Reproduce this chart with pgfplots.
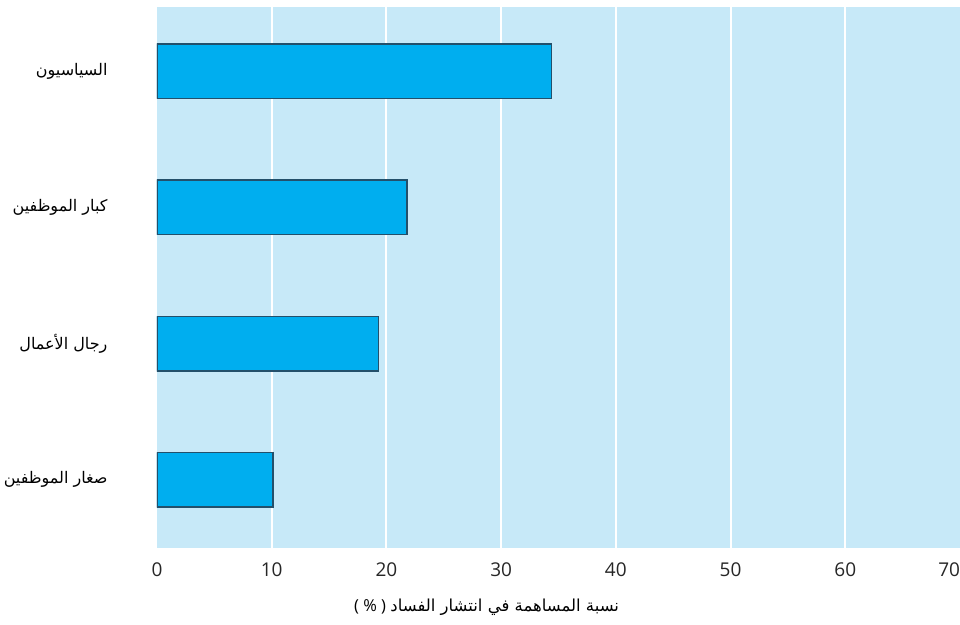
\documentclass[border=0pt]{standalone}
\usepackage{fontspec}
\usepackage{pgfplots}
\pgfplotsset{compat=1.18}
\setmainfont{Open Sans}
\newfontfamily\arabicfont[Script=Arabic]{DejaVu Sans}
\TeXXeTstate=1
\definecolor{bg}{HTML}{C7E9F8}
\definecolor{barfill}{HTML}{00AEEF}
\definecolor{edge}{HTML}{23506B}
\begin{document}
\begin{tikzpicture}
\path[use as bounding box] (-157pt,-76pt) rectangle (803pt,548pt);
\begin{axis}[at={(0,0)}, anchor=south west, scale only axis,
  width=803pt, height=541pt,
  xbar, xmin=0, xmax=70, ymin=-0.5, ymax=3.47,
  axis background/.style={fill=bg},
  axis line style={draw=none},
  major tick length=0pt, minor tick length=0pt,
  xtick={0,10,...,70},
  xticklabels={0,10,20,30,40,50,60,\llap{70}},
  minor xtick={10,20,...,60},
  xminorgrids,
  minor grid style={white, line width=2pt},
  ytick={0,1,2,3},
  yticklabels={
    {\beginR صغار الموظفين\endR},
    {\beginR رجال الأعمال\endR},
    {\beginR كبار الموظفين\endR},
    {\beginR السياسيون\endR}},
  yticklabel style={font=\arabicfont\fontsize{16}{19}\selectfont, anchor=east, xshift=-46pt},
  xticklabel style={font=\fontsize{19}{22}\selectfont, text=black!85, yshift=-11pt},
  /pgf/number format/assume math mode=true,
  xlabel={( \% ) \arabicfont\beginR نسبة المساهمة في انتشار الفساد\endR},
  xlabel style={font=\fontsize{16.5}{19}\selectfont, at={(rel axis cs:0.4105,0)}, anchor=center, yshift=-59pt},
  bar width=0.4,
]
\addplot[fill=barfill, draw=edge, line width=1.5pt] coordinates {
  (10.1,0) (19.3,1) (21.8,2) (34.4,3)
};
\end{axis}
\end{tikzpicture}
\end{document}
